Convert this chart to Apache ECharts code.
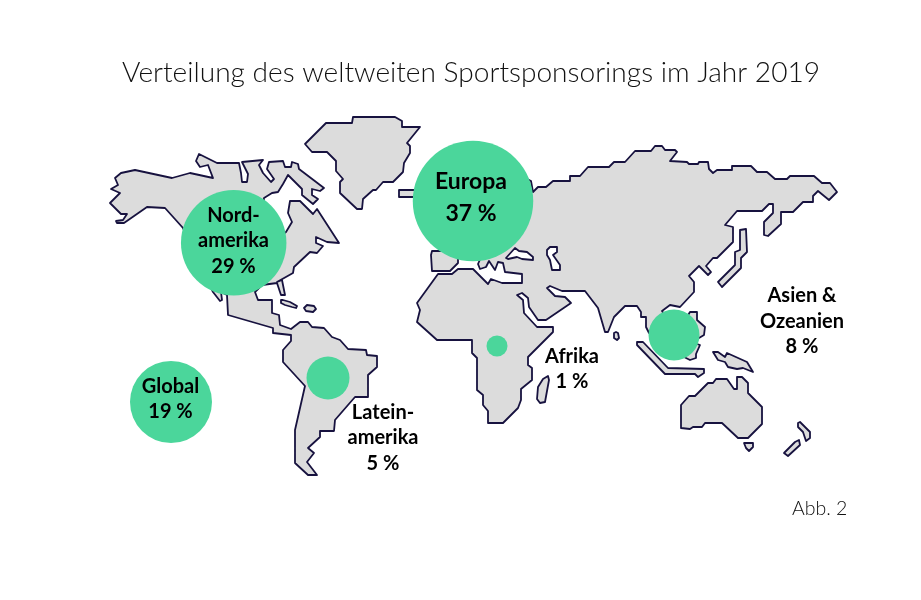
<!DOCTYPE html>
<html><head><meta charset="utf-8">
<style>html,body{margin:0;padding:0;background:#fff}#c{width:921px;height:600px}</style>
<script src="https://cdn.jsdelivr.net/npm/echarts@6/dist/echarts.min.js"></script>
</head><body><div id="c"></div>
<script>
// map outlines, in the chart's own map units
const northSouthAmerica = [[121,173],[135,170],[172,178],[190,173],[213,178],[208,165],[200,167],[196,161],[199,154],[217,163],[239,163],[241,173],[242,182],[247,182],[248,174],[242,162],[263,160],[259,165],[263,173],[271,182],[274,179],[267,169],[269,162],[283,161],[285,167],[291,167],[292,162],[298,164],[299,169],[324,188],[320,191],[312,189],[312,195],[318,199],[313,204],[302,195],[302,189],[288,175],[283,184],[278,192],[272,193],[264,198],[262,215],[275,240],[286,232],[292,222],[288,213],[290,201],[300,201],[313,214],[317,209],[339,243],[327,242],[316,237],[316,243],[323,246],[317,253],[310,252],[294,267],[293,273],[277,282],[282,280],[285,295],[281,295],[277,283],[262,285],[255,292],[258,300],[272,300],[272,313],[279,315],[280,325],[291,329],[300,322],[308,322],[312,327],[324,328],[332,337],[340,340],[348,349],[366,350],[367,355],[377,356],[377,367],[368,375],[368,397],[355,397],[348,405],[335,420],[334,431],[320,431],[320,437],[308,448],[314,453],[307,462],[317,475],[308,475],[295,463],[295,430],[305,386],[283,362],[283,350],[291,341],[291,335],[273,333],[273,328],[228,315],[227,295],[221,292],[222,300],[220,301],[213,292],[183,228],[165,208],[147,207],[124,223],[117,223],[116,221],[123,220],[127,214],[121,214],[110,203],[120,193],[111,189],[118,185],[115,178]];
const eurasiaAfrica = [[432,251],[442,251],[455,235],[470,190],[510,170],[531,181],[533,192],[538,187],[546,187],[553,181],[570,181],[570,176],[580,176],[588,167],[609,167],[614,162],[625,162],[635,151],[651,151],[655,146],[662,146],[665,150],[675,150],[677,152],[670,161],[687,162],[689,164],[698,164],[699,162],[708,162],[709,169],[713,173],[717,170],[732,170],[732,166],[751,166],[757,172],[767,172],[775,179],[787,179],[790,176],[814,176],[822,183],[830,183],[837,192],[829,200],[818,191],[813,196],[813,202],[803,202],[793,212],[781,212],[781,224],[768,236],[764,235],[764,222],[773,213],[773,204],[769,204],[762,211],[737,211],[725,225],[733,227],[733,242],[717,258],[713,258],[706,266],[711,272],[708,275],[699,266],[689,276],[694,282],[694,292],[680,307],[670,305],[662,311],[668,320],[685,320],[690,312],[697,312],[697,320],[705,327],[704,335],[699,338],[680,345],[660,345],[649,333],[646,327],[646,317],[641,317],[641,312],[637,306],[625,306],[614,317],[608,332],[605,332],[598,308],[585,291],[562,291],[550,286],[547,288],[555,296],[565,297],[571,303],[546,320],[538,320],[529,307],[528,298],[522,293],[517,295],[523,300],[524,313],[537,327],[553,327],[553,332],[528,357],[528,365],[532,368],[532,380],[521,389],[521,400],[518,408],[503,423],[488,423],[488,411],[483,405],[483,395],[477,390],[477,358],[472,353],[472,340],[437,340],[417,322],[420,310],[417,303],[438,274],[452,274],[458,269],[473,269],[488,284],[491,279],[502,283],[522,283],[522,274],[505,272],[503,263],[498,262],[495,270],[489,261],[486,267],[480,269],[478,264],[482,255],[458,258],[458,263],[450,271],[432,271],[431,255]];
const greenland = [[326,123],[352,123],[353,117],[395,117],[402,121],[402,127],[420,127],[407,143],[410,146],[410,153],[404,163],[403,172],[393,182],[383,182],[376,190],[373,190],[363,199],[362,209],[357,209],[340,193],[340,182],[343,179],[336,171],[336,161],[327,152],[312,152],[305,144]];
const iceland = [[399,190],[420,190],[420,197],[399,197]];
const cuba = [[281,300],[283,300],[290,302],[297,306],[296,308],[292,307],[285,305],[281,303]];
const hispaniola = [[304,308],[307,305],[314,306],[316,309],[313,312],[306,311]];
const madagascar = [[548,376],[549,380],[545,402],[540,403],[537,399],[538,387],[543,379]];
const sriLanka = [[614,333],[616,332],[618,333],[619,338],[617,340],[614,338]];
const japan = [[740,230],[746,229],[747,252],[741,258],[741,268],[722,287],[718,282],[735,265],[735,252],[740,250]];
const sunda = [[637,342],[643,342],[668,368],[704,369],[704,373],[698,377],[695,374],[665,374],[637,345]];
const borneo = [[685,340],[700,345],[696,354],[696,358],[690,360],[680,355]];
const newGuinea = [[713,352],[718,352],[725,357],[727,353],[747,362],[753,372],[743,368],[737,369],[728,367],[725,362],[718,360]];
const australia = [[681,405],[689,396],[695,396],[708,383],[713,383],[716,379],[727,379],[734,389],[737,389],[737,377],[742,377],[748,383],[748,393],[762,407],[762,424],[748,438],[738,438],[722,423],[705,423],[702,427],[693,427],[690,429],[681,428]];
const tasmania = [[744,443],[753,443],[753,447],[749,451],[746,448]];
const nzNorth = [[798,423],[800,422],[810,432],[810,438],[806,441],[803,432],[798,427]];
const nzSouth = [[799,440],[800,445],[788,456],[784,453],[795,442]];
const blackSea = [[506,258],[515,248],[519,251],[527,252],[533,257],[533,260],[522,259],[517,257],[508,259]];
const caspianSea = [[547,250],[550,247],[557,247],[557,252],[553,255],[560,265],[560,270],[552,270],[550,260],[547,255]];

const landShapes = [northSouthAmerica, eurasiaAfrica, greenland, iceland, cuba, hispaniola, madagascar, sriLanka, japan, sunda, borneo, newGuinea, australia, tasmania, nzNorth, nzSouth];
const seaShapes = [blackSea, caspianSea];

// regions
const regions = ['Europa','Nordamerika','Global','Lateinamerika','Asien & Ozeanien','Afrika'];
const shares = [37,29,19,5,8,1];
const bubbleX = [473,233.7,171,328,674,497];
const bubbleY = [201,242.7,402,378,335,346];

const labelTexts = ['Europa\n37 %','Nord-\namerika\n29 %','Global\n19 %','Latein-\namerika\n5 %','Asien &\nOzeanien\n8 %','Afrika\n1 %'];
const labelX = [471,233.5,170.5,383,802,572];
const labelY = [198,241,399,438,321.5,369];

const titleText = 'Verteilung des weltweiten Sportsponsorings im Jahr 2019';
const noteText = 'Abb. 2';

const FONT = 'Lato';
const diam = {37:120.5,29:105.5,19:82,5:43,8:51,1:21};
const shapeData = landShapes.map((_,i)=>[i,0]).concat(seaShapes.map((_,i)=>[i,1]));

const chart = echarts.init(document.getElementById('c'), null, {renderer:'canvas'});
chart.setOption({
  animation:false,
  backgroundColor:'#fff',
  title:[
    {text:titleText,left:122,top:59,textStyle:{fontFamily:FONT,fontWeight:300,fontSize:28.1,color:'#111'},padding:0},
    {text:noteText,left:792,top:499,textStyle:{fontFamily:FONT,fontWeight:300,fontSize:19.5,color:'#111'},padding:0}
  ],
  grid:{left:0,top:0,width:921,height:600},
  xAxis:{type:'value',min:0,max:921,show:false},
  yAxis:{type:'value',min:0,max:600,inverse:true,show:false},
  series:[
    {type:'custom',z:1,clip:false,silent:true,data:shapeData,
     renderItem:(p,api)=>{
       const sea = api.value(1)===1;
       const pts = (sea?seaShapes:landShapes)[api.value(0)].map(q=>api.coord(q));
       return {type:'polygon',shape:{points:pts},
         style:{fill:sea?'#ffffff':'#dcdcdc',stroke:'#17123f',lineWidth:1.8,lineJoin:'round'}};
     }},
    {type:'scatter',z:3,silent:true,
     data:shares.map((v,i)=>({name:regions[i],value:[bubbleX[i],bubbleY[i],v]})),
     symbolSize:d=>diam[d[2]],
     itemStyle:{color:'#4bd69b',opacity:1}},
    {type:'scatter',z:4,silent:true,symbolSize:0,itemStyle:{opacity:1},
     data:labelTexts.map((t,i)=>({value:[labelX[i],labelY[i]],
       label:{show:true,position:'inside',formatter:t,
         fontFamily:FONT,fontWeight:700,color:'#000',align:'center',verticalAlign:'middle',
         fontSize:i===0?23:20,lineHeight:i===0?32:25.5}}))}
  ]
});
</script></body></html>
